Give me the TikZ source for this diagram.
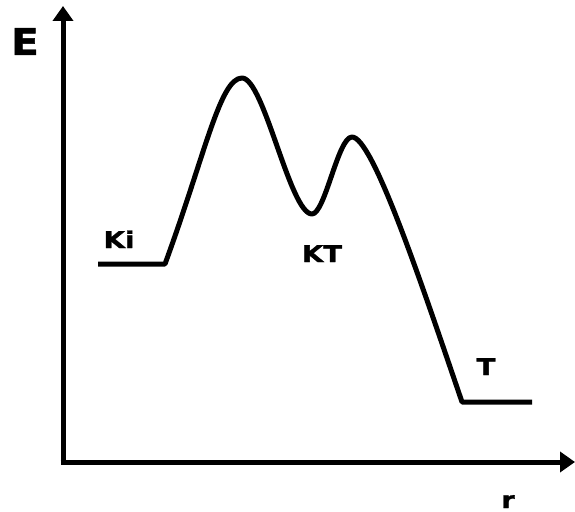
\documentclass[tikz,border=0pt]{standalone}
\usepackage{fontspec}
\usepackage{graphicx}
\setmainfont{DejaVu Sans}
\newfontfamily\heavyfont[FakeBold=1.2]{DejaVu Sans Bold}
\usetikzlibrary{arrows.meta}
\newcommand{\wide}[2]{\scalebox{#1}[1]{#2}}
\begin{document}
\begin{tikzpicture}[x=1pt,y=-1pt,
  lbl/.style={font=\heavyfont\fontsize{23}{23}\selectfont, anchor=base, inner sep=0pt},
  big/.style={font=\heavyfont\fontsize{37}{37}\selectfont, anchor=base, inner sep=0pt},
  axis/.style={line width=5pt, miter limit=10, -{Triangle[width=20pt,length=15pt]}},
  curve/.style={line width=5pt, line join=round}]
\useasboundingbox (0,0) rectangle (575,511);
\coordinate (O) at (63,462);
\coordinate (Etip) at (63,6);
\coordinate (rtip) at (575,462);
\draw[axis] (O) -- (Etip);
\draw[axis] (60.5,462) -- (rtip);
\coordinate (kiL) at (98,264);
\coordinate (kiR) at (165,264);
\coordinate (p1) at (242,78);
\coordinate (m1) at (312,214);
\coordinate (p2) at (352,137);
\coordinate (tL) at (462,402);
\coordinate (tR) at (532,402);
\draw[curve] (kiL) -- (kiR)
  .. controls (205,155) and (220,78) .. (p1)
  .. controls (264,78) and (290,214) .. (m1)
  .. controls (325,214) and (338,137) .. (p2)
  .. controls (372,137) and (418,273) .. (tL)
  -- (tR);
\node[big] (E) at (25,55) {\wide{1.1}{E}};
\node[lbl] (Ki) at (119,248) {\wide{1.2}{Ki}};
\node[lbl] (KT) at (322,262) {\wide{1.2}{KT}};
\node[lbl] (T) at (486,375) {\wide{1.2}{T}};
\node[lbl] (r) at (508,508) {\wide{1.2}{r}};
\end{tikzpicture}
\end{document}
